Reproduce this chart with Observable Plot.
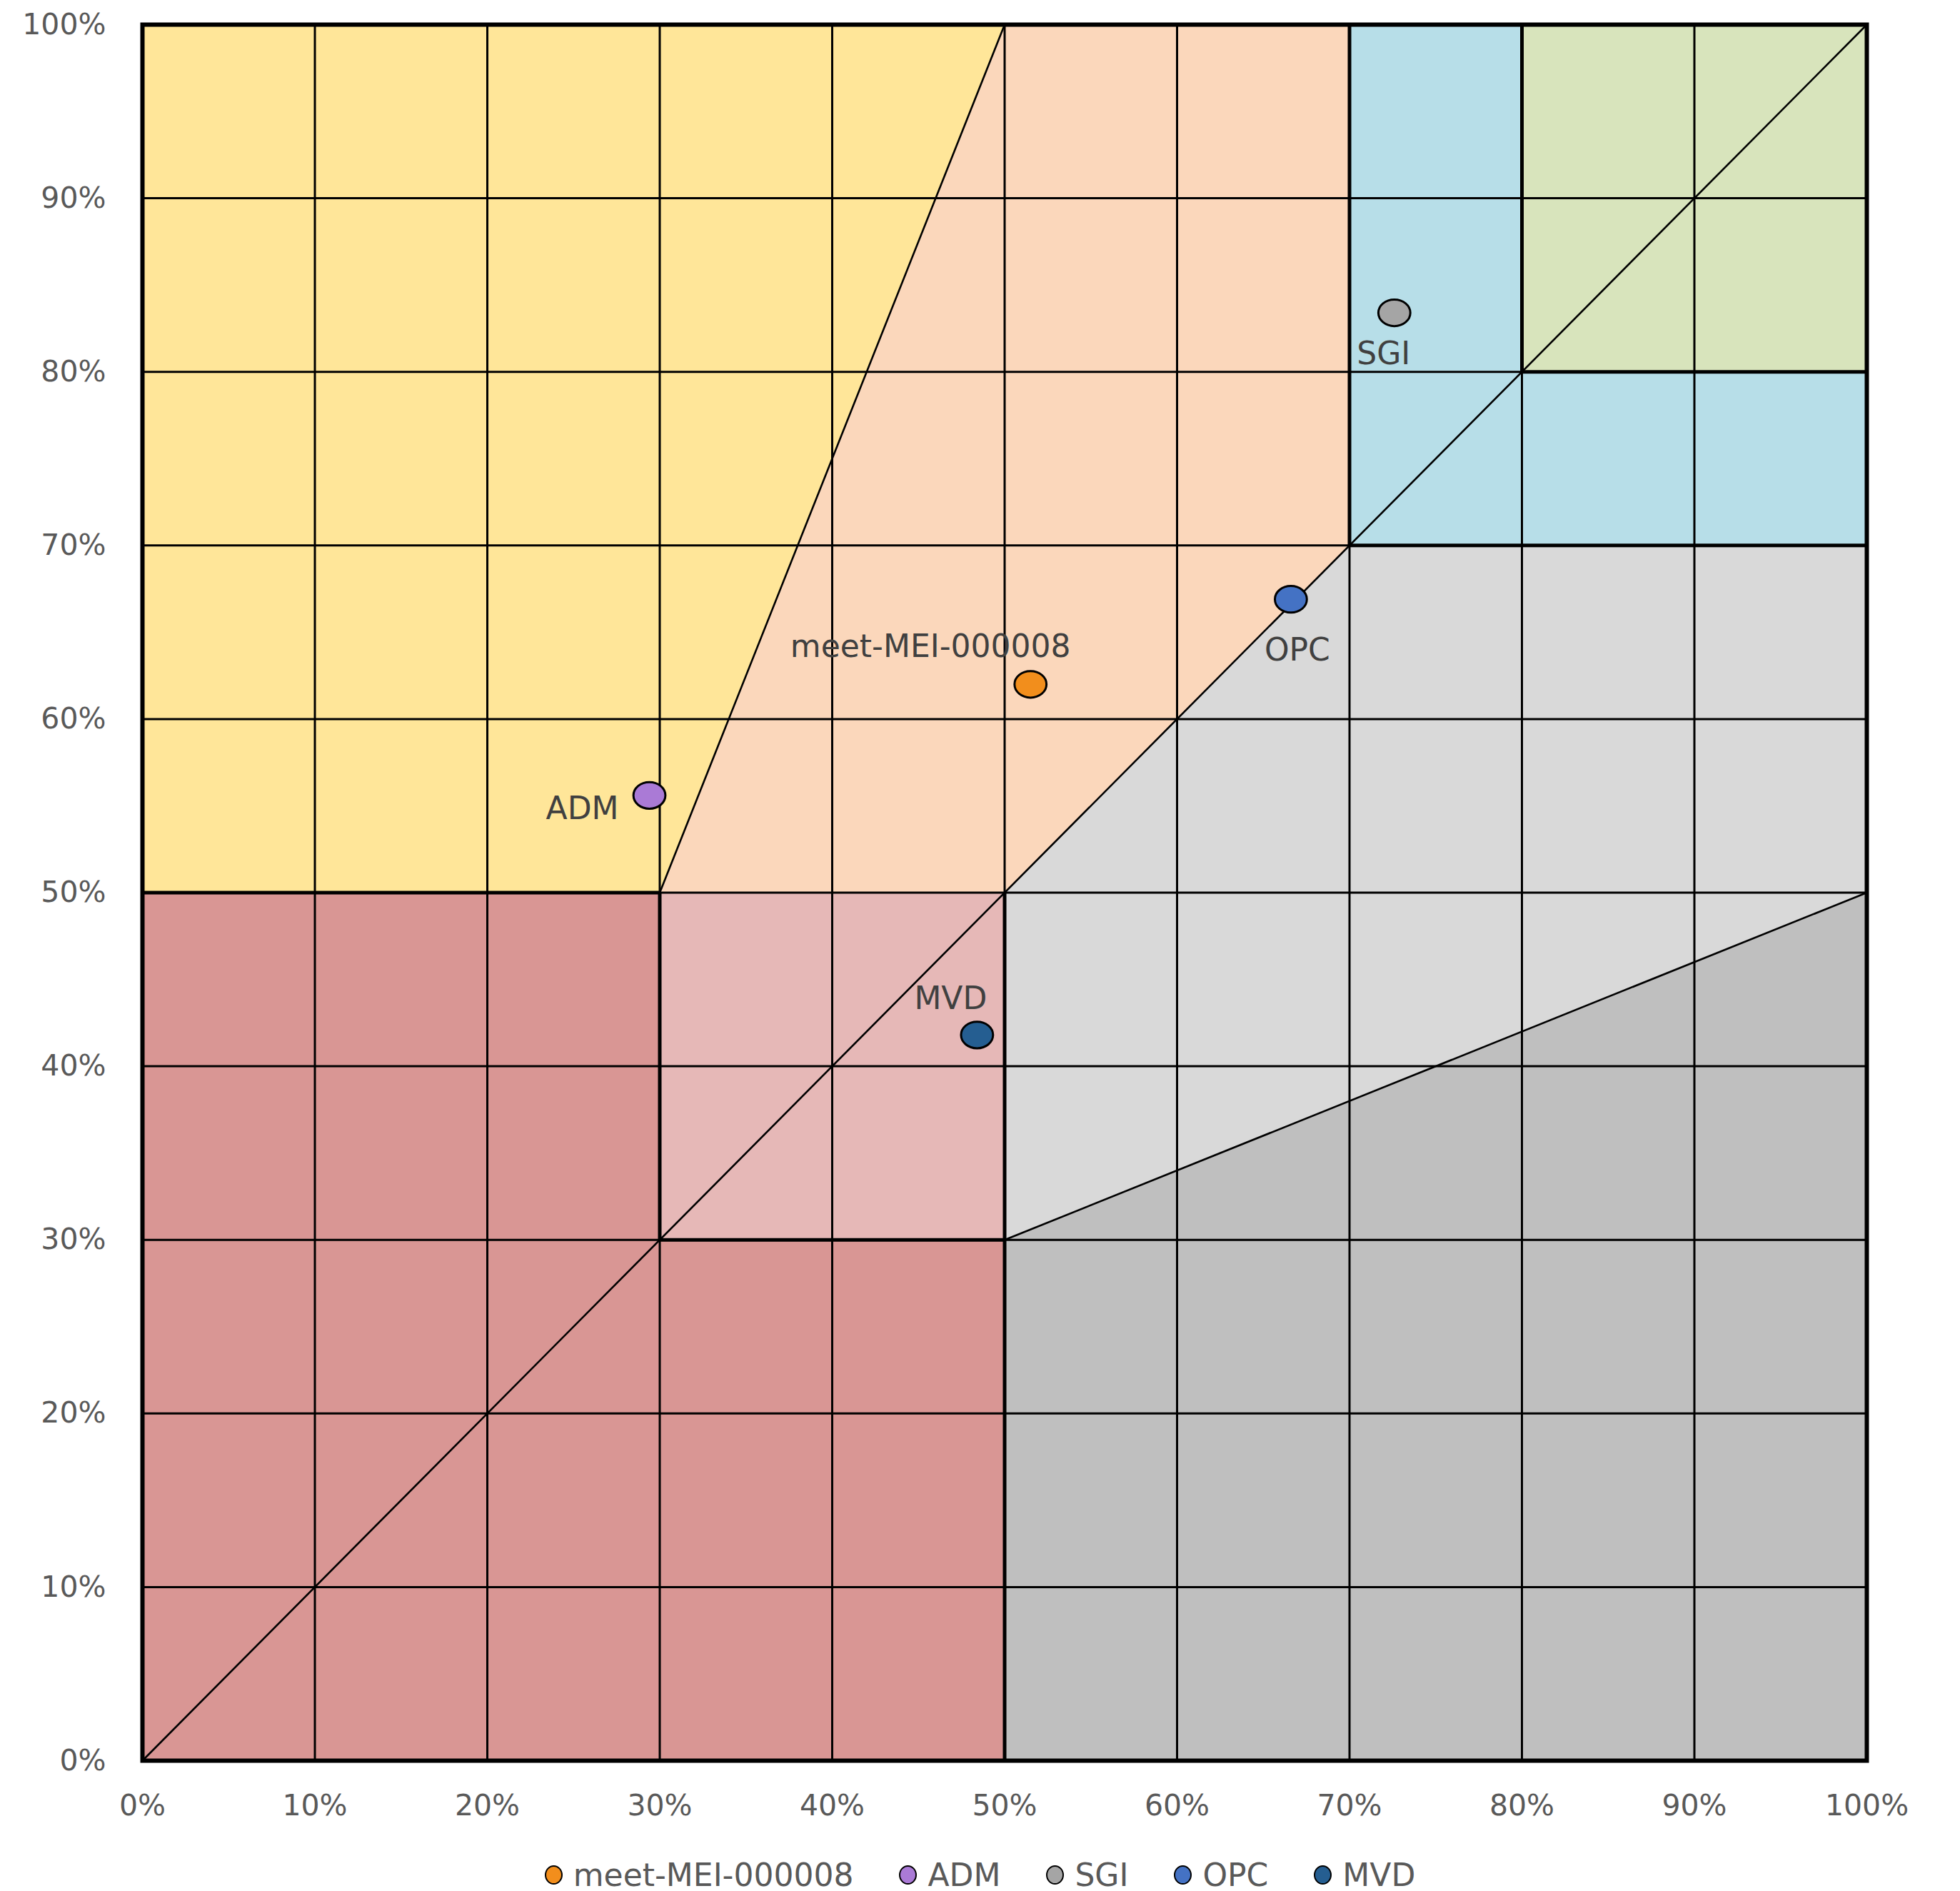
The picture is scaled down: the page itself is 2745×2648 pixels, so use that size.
<!DOCTYPE html>
<html>
<head>
<meta charset="utf-8">
<script src="https://cdn.jsdelivr.net/npm/d3@7"></script>
<script src="https://cdn.jsdelivr.net/npm/@observablehq/plot@0.6"></script>
<style>
  body { margin: 0; background: white; font-family: "DejaVu Sans", Verdana, sans-serif; }
  #legend { display: flex; justify-content: center; align-items: center; height: 90px; font-size: 44px; color: #595959; }
  .item { display: flex; align-items: center; margin: 0 32px; }
  .sw { width: 21px; height: 23px; border: 2.5px solid black; border-radius: 50%; margin-right: 15px; }
</style>
</head>
<body>
<div id="chart"></div>
<div id="legend"></div>
<script>
// ---- data ----
const seriesNames  = ["meet-MEI-000008", "ADM", "SGI", "OPC", "MVD"];
const seriesX      = [51.5, 29.4, 72.6, 66.6, 48.4];
const seriesY      = [62.0, 55.6, 83.4, 66.9, 41.8];
const seriesColors = ["#F28E1C", "#AA7AD6", "#A5A5A5", "#4472C4", "#255E91"];

const xTicks = [0, 10, 20, 30, 40, 50, 60, 70, 80, 90, 100];
const yTicks = [0, 10, 20, 30, 40, 50, 60, 70, 80, 90, 100];

// zone polygons (x %, y %)
const zoneYellow   = [[0,50],[0,100],[50,100],[30,50]];
const zonePeach    = [[30,50],[50,100],[70,100],[70,70],[50,50]];
const zonePink     = [[30,30],[30,50],[50,50],[50,30]];
const zoneRed      = [[0,0],[0,50],[30,50],[30,30],[50,30],[50,0]];
const zoneDarkGray = [[50,0],[50,30],[100,50],[100,0]];
const zoneLiteGray = [[50,30],[50,50],[70,70],[100,70],[100,50]];
const zoneBlue     = [[70,70],[70,100],[80,100],[80,80],[100,80],[100,70]];
const zoneGreen    = [[80,80],[80,100],[100,100],[100,80]];
const zoneColors = ["#FFE699", "#FBD7BB", "#E6B8B7", "#D99694", "#BFBFBF", "#D9D9D9", "#B7DEE8", "#D8E4BC"];

// boundary segments [x1,y1,x2,y2]
const thickEdges = [[0,50,30,50],[30,30,30,50],[30,30,50,30],[50,0,50,50],[70,70,70,100],[70,70,100,70],[80,80,80,100],[80,80,100,80]];
const slantEdges = [[0,0,100,100],[30,50,50,100],[50,30,100,50]];

// ---- layout / style config ----
const labelOffsets = {
  "meet-MEI-000008": [-140, -52],
  "ADM": [-94, 19],
  "SGI": [-15, 58],
  "OPC": [9, 72],
  "MVD": [-37, -50]
};

const zones = [zoneYellow, zonePeach, zonePink, zoneRed, zoneDarkGray, zoneLiteGray, zoneBlue, zoneGreen];
const points = seriesNames.map((n, i) => ({name: n, x: seriesX[i], y: seriesY[i], color: seriesColors[i]}));

const ellipse = {
  draw(context, size) {
    const r = Math.sqrt(size / Math.PI);
    const rx = r * 1.12, ry = r * 0.93, k = 0.5523;
    context.moveTo(rx, 0);
    context.bezierCurveTo(rx, k * ry, k * rx, ry, 0, ry);
    context.bezierCurveTo(-k * rx, ry, -rx, k * ry, -rx, 0);
    context.bezierCurveTo(-rx, -k * ry, -k * rx, -ry, 0, -ry);
    context.bezierCurveTo(k * rx, -ry, rx, -k * ry, rx, 0);
    context.closePath();
  }
};

const marks = [];
zones.forEach((z, i) => {
  marks.push(Plot.line(z.concat([z[0]]), {x: d => d[0], y: d => d[1], fill: zoneColors[i], stroke: "none"}));
});
marks.push(Plot.ruleX(xTicks, {stroke: "black", strokeWidth: 3}));
marks.push(Plot.ruleY(yTicks, {stroke: "black", strokeWidth: 3}));
marks.push(Plot.link(thickEdges, {x1: d => d[0], y1: d => d[1], x2: d => d[2], y2: d => d[3], stroke: "black", strokeWidth: 5}));
marks.push(Plot.link(slantEdges, {x1: d => d[0], y1: d => d[1], x2: d => d[2], y2: d => d[3], stroke: "black", strokeWidth: 2.6}));
marks.push(Plot.frame({stroke: "black", strokeWidth: 6}));
marks.push(Plot.dot(points, {x: "x", y: "y", r: 20, symbol: ellipse, fill: "color", stroke: "black", strokeWidth: 3}));
points.forEach(p => {
  const [dx, dy] = labelOffsets[p.name];
  marks.push(Plot.text([p], {x: "x", y: "y", text: "name", dx, dy, fill: "#404040", fontSize: 44, textAnchor: "middle"}));
});

const chart = Plot.plot({
  width: 2745,
  height: 2580,
  marginLeft: 199,
  marginRight: 131,
  marginTop: 34,
  marginBottom: 115,
  style: {fontFamily: "DejaVu Sans", fontSize: "41px", color: "#595959", background: "white"},
  color: {type: "identity"},
  x: {domain: [0, 100], ticks: xTicks, tickFormat: d => d + "%", tickSize: 0, tickPadding: 47, label: null},
  y: {domain: [0, 100], ticks: yTicks, tickFormat: d => d + "%", tickSize: 0, tickPadding: 51, label: null},
  marks
});
document.getElementById("chart").appendChild(chart);

const legend = document.getElementById("legend");
points.forEach(p => {
  const item = document.createElement("div");
  item.className = "item";
  const sw = document.createElement("div");
  sw.className = "sw";
  sw.style.background = p.color;
  const t = document.createElement("span");
  t.textContent = p.name;
  item.appendChild(sw);
  item.appendChild(t);
  legend.appendChild(item);
});
</script>
</body>
</html>
